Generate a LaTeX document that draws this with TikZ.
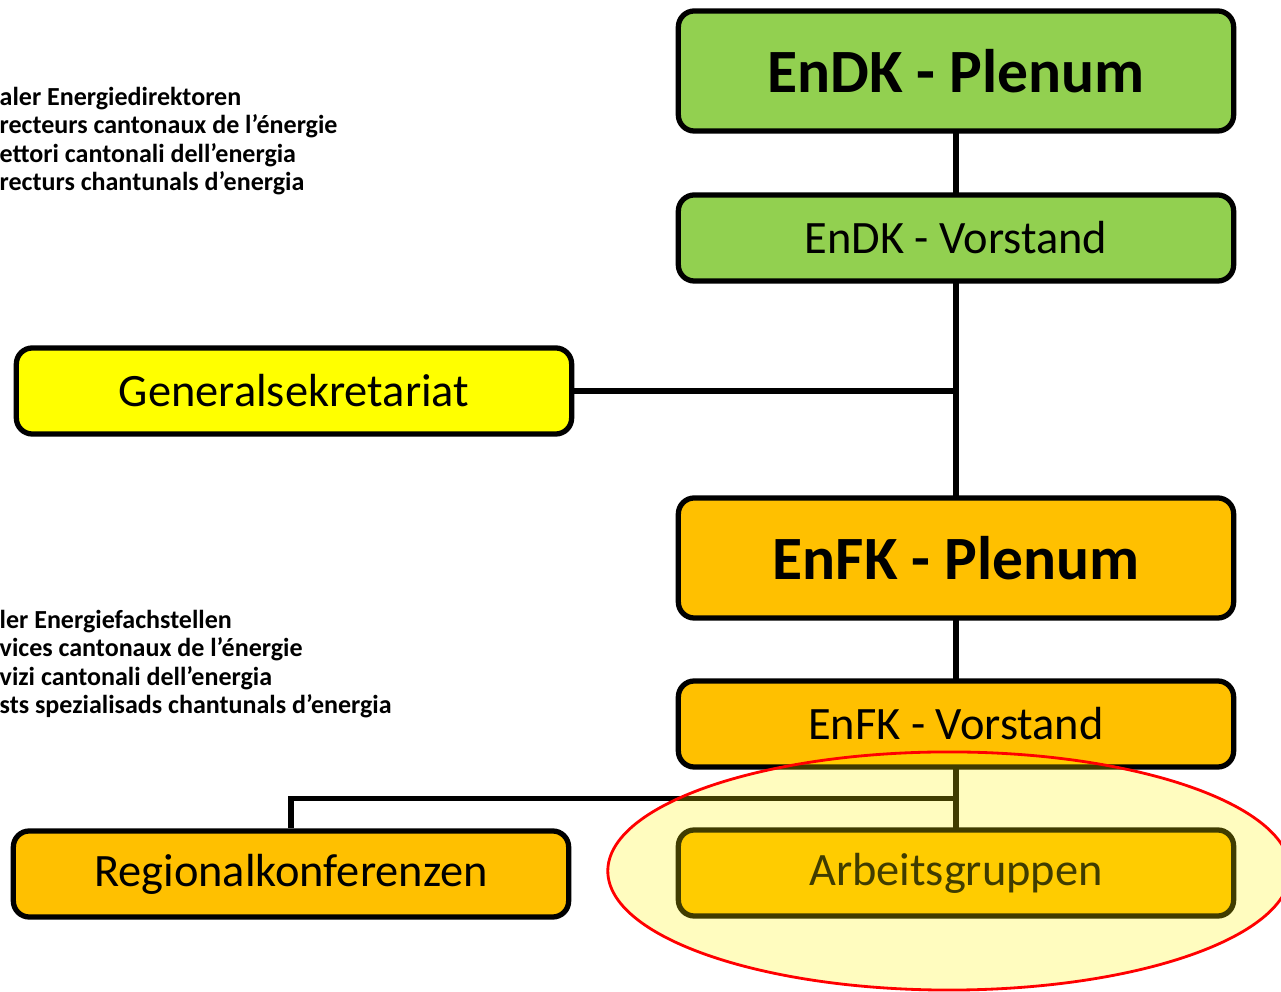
\documentclass[tikz,border=0pt]{standalone}
\usepackage{fontspec}
\setmainfont{Carlito}
\usetikzlibrary{calc,shadows}
\definecolor{endkgreen}{HTML}{92D050}
\definecolor{enfkorange}{HTML}{FFC000}
\definecolor{gsyellow}{HTML}{FFFF00}
\begin{document}
\begin{tikzpicture}[x=0.01cm,y=-0.01cm]
  \tikzstyle{organ}=[draw=black,line width=1.5pt,rounded corners=0.16cm,inner sep=0pt,
                     drop shadow={opacity=0.2,shadow xshift=0.6pt,shadow yshift=-0.6pt}]
  \tikzstyle{plenum}=[organ,minimum width=5.55cm,minimum height=1.2cm,font=\fontsize{17.5}{19}\selectfont\bfseries]
  \tikzstyle{board}=[organ,minimum width=5.55cm,minimum height=0.86cm,font=\fontsize{13.2}{15}\selectfont]
  \tikzstyle{staff}=[organ,minimum width=5.55cm,minimum height=0.86cm,font=\fontsize{13.2}{15}\selectfont]
  \tikzstyle{legend}=[anchor=west,align=left,inner sep=0pt,font=\fontsize{7.4}{8.1}\selectfont\bfseries]
  \tikzstyle{link}=[line width=1.5pt]
  \def\xorg{956} % centre of the right column
  \clip (0,0) rectangle (1281,992);
  % legends, cut at the left edge
  \node[legend] (dirtext) at (-1,141) {aler Energiedirektoren\\recteurs cantonaux de l’énergie\\ettori cantonali dell’energia\\recturs chantunals d’energia};
  \node[legend] (fachtext) at (-1,664) {ler Energiefachstellen\\vices cantonaux de l’énergie\\vizi cantonali dell’energia\\sts spezialisads chantunals d’energia};
  % connectors
  \coordinate (endpc) at (\xorg,71);
  \coordinate (endvc) at (\xorg,238);
  \coordinate (enfpc) at (\xorg,558);
  \coordinate (enfvc) at (\xorg,724);
  \coordinate (agc) at (\xorg,873);
  \draw[link] (endpc) -- (endvc) -- (enfpc) -- (enfvc) -- (agc);
  % boxes
  \node[plenum,fill=endkgreen] (endp) at (endpc) {EnDK - Plenum};
  \node[board,fill=endkgreen] (endv) at (endvc) {EnDK - Vorstand};
  \node[staff,fill=gsyellow] (gs) at (294,391) {Generalsekretariat};
  \node[plenum,fill=enfkorange] (enfp) at (enfpc) {EnFK - Plenum};
  \node[board,fill=enfkorange] (enfv) at (enfvc) {EnFK - Vorstand};
  \node[staff,fill=enfkorange] (reg) at (291,874) {Regionalkonferenzen};
  \node[board,fill=enfkorange] (ag) at (agc) {Arbeitsgruppen};
  \draw[link] (gs) -- (gs -| endv);
  \coordinate (split) at ($(enfv.south)!0.5!(ag.north)$);
  \draw[link] (split) -| (reg);
  % highlight
  \draw[red,line width=0.8pt,fill=yellow,fill opacity=0.25] (949,871) ellipse [x radius=3.41cm,y radius=1.19cm];
\end{tikzpicture}
\end{document}
